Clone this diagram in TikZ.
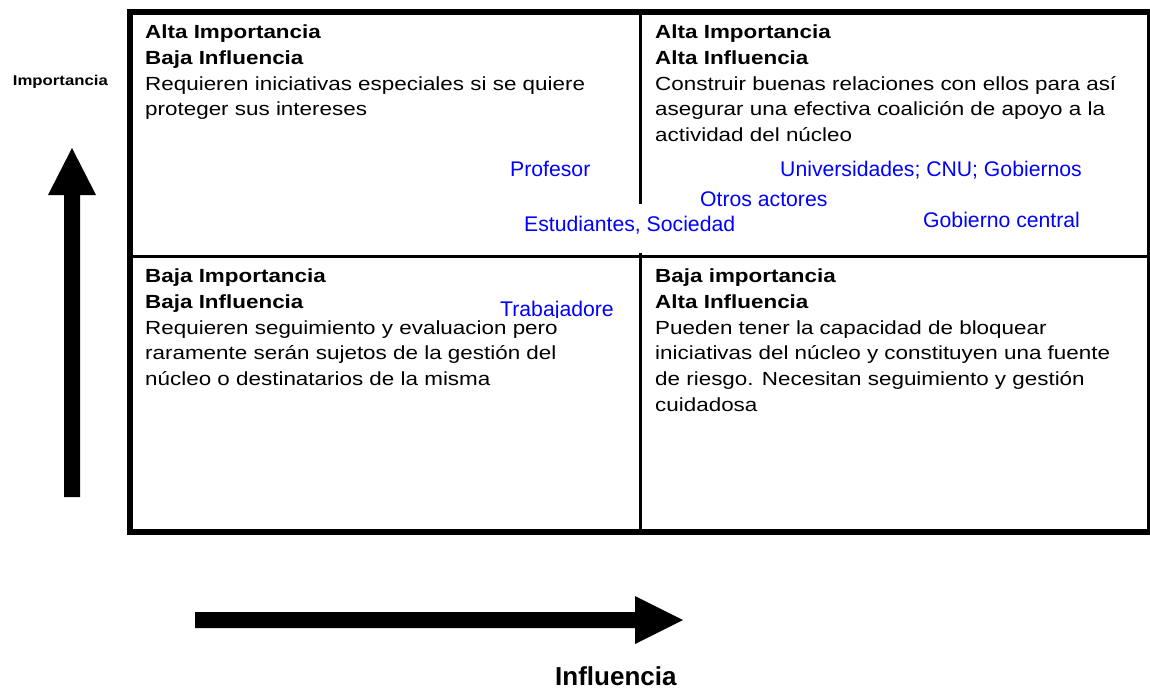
\documentclass[tikz,border=0pt]{standalone}
\usepackage{fontspec}
\setmainfont{Liberation Sans}
\newfontfamily\widefont[FakeStretch=1.18]{Liberation Sans}
\definecolor{lblue}{RGB}{0,0,255}
\begin{document}
\begin{tikzpicture}[x=1pt,y=-1pt,
  quad/.style={anchor=base west, inner sep=0pt, font=\widefont\fontsize{19}{25.8}\selectfont},
  who/.style={anchor=base west, inner sep=0pt, text=lblue, font=\fontsize{21.2}{24}\selectfont},
  axislabel/.style={anchor=base west, inner sep=0pt, font=\bfseries},
  thickborder/.style={line width=6pt},
  thinrule/.style={line width=3pt}]
\useasboundingbox (0,0) rectangle (1150,690);
% frame
\draw[thickborder] (1149.5,12.5) -- (130,12.5) -- (130,532) -- (1149.5,532);
\draw[thinrule] (1148,12.5) -- (1148,532);
\draw[thinrule] (130,256.5) -- (1148,256.5);
\draw[thinrule] (640.5,12.5) -- (640.5,204);
\draw[thinrule] (640.5,253) -- (640.5,532);
% quadrant texts
\node[quad] (tl) at (145,38.5) {\parbox[t]{490pt}{\textbf{Alta Importancia}\\\textbf{Baja Influencia}\\Requieren iniciativas especiales si se quiere\\proteger sus intereses}};
\node[quad] (tr) at (655,38.5) {\parbox[t]{490pt}{\textbf{Alta Importancia}\\\textbf{Alta Influencia}\\Construir buenas relaciones con ellos para así\\asegurar una efectiva coalición de apoyo a la\\actividad del núcleo}};
\node[quad] (bl) at (145,282.5) {\parbox[t]{490pt}{\textbf{Baja Importancia}\\\textbf{Baja Influencia}\\Requieren seguimiento y evaluacion pero\\raramente serán sujetos de la gestión del\\núcleo o destinatarios de la misma}};
\node[quad] (br) at (655,282.5) {\parbox[t]{490pt}{\textbf{Baja importancia}\\\textbf{Alta Influencia}\\Pueden tener la capacidad de bloquear\\iniciativas del núcleo y constituyen una fuente\\de riesgo. Necesitan seguimiento y gestión\\cuidadosa}};
% stakeholders
\node[who] (prof) at (510,176) {Profesor};
\node[who] (univ) at (780,176) {Universidades; CNU; Gobiernos};
\node[who] (otros) at (700,206.5) {Otros actores};
\node[who] (gob) at (923,227) {Gobierno central};
\node[who] (est) at (524,231) {Estudiantes, Sociedad};
\begin{scope}
  \clip (490,290) rectangle (614,317.5);
  \node[who] (trab) at (500,316) {Trabajadore};
\end{scope}
% axes
\fill (64,497) -- (64,195) -- (48,195) -- (72,148) -- (96,195) -- (80,195) -- (80,497) -- cycle;
\fill (195,612) -- (635,612) -- (635,596) -- (683,620) -- (635,644) -- (635,628) -- (195,628) -- cycle;
\node[axislabel, font=\widefont\bfseries\fontsize{14.2}{16}\selectfont] (imp) at (12.7,86) {Importancia};
\node[axislabel, font=\bfseries\fontsize{26}{30}\selectfont] (inf) at (555,685) {Influencia};
\end{tikzpicture}
\end{document}
